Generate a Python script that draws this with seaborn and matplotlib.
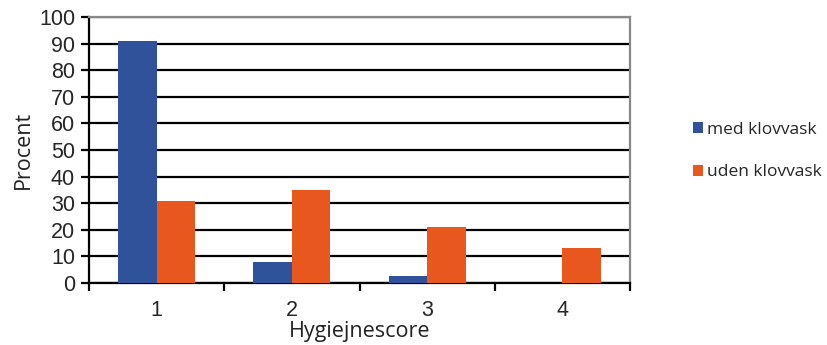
import matplotlib
matplotlib.use("Agg")
import matplotlib.pyplot as plt
import seaborn as sns
import pandas as pd
from matplotlib.ticker import FixedLocator

scores = ["1", "2", "3", "4"]
med_klovvask = [91, 8, 2.5, 0]
uden_klovvask = [31, 35, 21, 13]
series_names = ["med klovvask", "uden klovvask"]
yticks = list(range(0, 101, 10))

df = pd.DataFrame({
    "Hygiejnescore": scores * 2,
    "Procent": med_klovvask + uden_klovvask,
    "Gruppe": [series_names[0]] * 4 + [series_names[1]] * 4,
})

sns.set_theme(style="white")
plt.rcParams["font.family"] = ["Liberation Sans", "DejaVu Sans"]
label_font = ["Open Sans", "DejaVu Sans"]

fig = plt.figure(figsize=(8.28, 3.45), dpi=100)
ax = fig.add_axes([89 / 828, 1 - 283 / 345, (630 - 89) / 828, (283 - 17) / 345])

palette = {series_names[0]: "#2F529B", series_names[1]: "#E8581E"}
sns.barplot(data=df, x="Hygiejnescore", y="Procent", hue="Gruppe",
            palette=palette, width=0.57, saturation=1, linewidth=0,
            ax=ax, zorder=3)

ax.set_ylim(0, 100)
ax.set_xlim(-0.5, 3.5)
ax.set_yticks(yticks)
ax.yaxis.grid(True, color="black", linewidth=1.6, zorder=0)
ax.set_axisbelow(True)

ax.xaxis.set_minor_locator(FixedLocator([-0.5, 0.5, 1.5, 2.5, 3.5]))
ax.tick_params(axis="x", which="major", length=0, labelsize=15.5, pad=12)
ax.tick_params(axis="x", which="minor", length=6, width=1.6, color="black",
               direction="out", bottom=True)
ax.tick_params(axis="y", length=6, width=1.6, color="black", direction="out",
               left=True, labelsize=15.5, pad=4)

for side in ["left", "bottom"]:
    ax.spines[side].set_color("black")
    ax.spines[side].set_linewidth(1.6)
for side in ["top", "right"]:
    ax.spines[side].set_color("#888888")
    ax.spines[side].set_linewidth(1.6)
    ax.spines[side].set_visible(True)

ax.set_xlabel("Hygiejnescore", fontsize=15.5, family=label_font,
              color="#222222", labelpad=0)
ax.set_ylabel("Procent", fontsize=15.5, family=label_font,
              color="#222222", labelpad=4)

handles, labels = ax.get_legend_handles_labels()
ax.legend(handles, labels, loc="center left",
          bbox_to_anchor=(677 / 828, 1 - 151 / 345),
          bbox_transform=fig.transFigure, frameon=False,
          prop={"family": label_font, "size": 12.5},
          handlelength=0.6, handleheight=0.6, handletextpad=0.25, labelspacing=1.55)

fig.savefig("out.png", dpi=100)
